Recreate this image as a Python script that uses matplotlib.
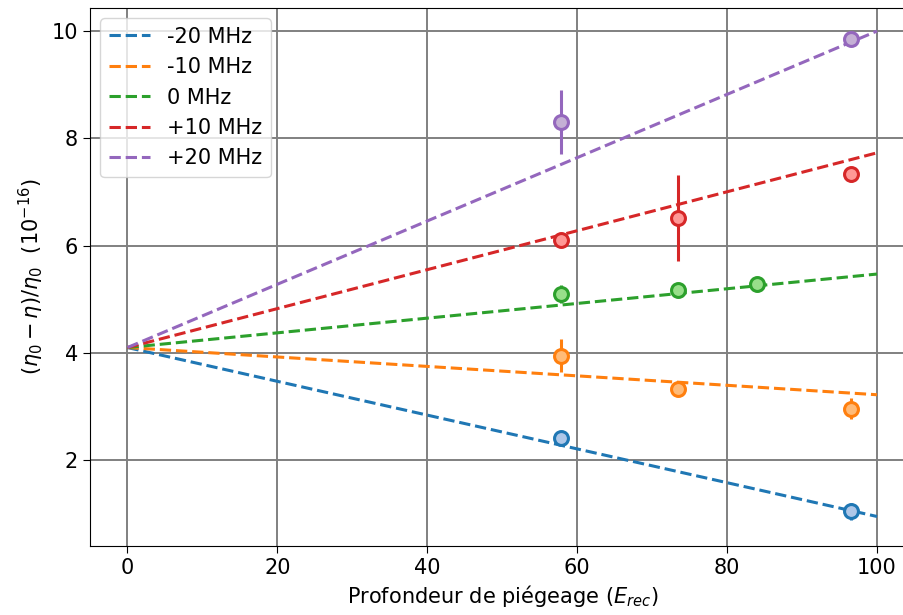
import numpy as np
import matplotlib
matplotlib.use("Agg")
import matplotlib.pyplot as plt

# Fit lines: value at depth 0 and at depth 100
labels = ['-20 MHz', '-10 MHz', '0 MHz', '+10 MHz', '+20 MHz']
colors = ['tab:blue', 'tab:orange', 'tab:green', 'tab:red', 'tab:purple']
faces = ['#aec7e8', '#ffbb78', '#98df8a', '#ff9896', '#c5b0d5']
fit_x = [0, 100]
fit_start = [4.1, 4.1, 4.1, 4.1, 4.1]
fit_end = [0.95, 3.22, 5.47, 7.73, 10.0]

# Measured points (depth, value, error)
pts_x = [
    [57.8, 96.5],
    [57.8, 73.5, 96.5],
    [57.8, 73.5, 84.0],
    [57.8, 73.5, 96.5],
    [57.8, 96.5],
]
pts_y = [
    [2.42, 1.05],
    [3.95, 3.32, 2.96],
    [5.10, 5.17, 5.28],
    [6.10, 6.51, 7.33],
    [8.30, 9.85],
]
pts_err = [
    [0.05, 0.16],
    [0.30, 0.05, 0.19],
    [0.17, 0.05, 0.05],
    [0.06, 0.80, 0.14],
    [0.60, 0.05],
]

fig = plt.figure(figsize=(9.04, 6.15), dpi=100)
ax = fig.add_axes([90/904, 1 - 546/615, (914.5 - 90)/904, (546 - 8)/615])

for i in range(5):
    ax.plot(fit_x, [fit_start[i], fit_end[i]], '--', color=colors[i],
            lw=2.2, label=labels[i])
    ax.errorbar(pts_x[i], pts_y[i], yerr=pts_err[i], fmt='o', color=colors[i],
                ms=10, mfc=faces[i], mec=colors[i], mew=2.2, elinewidth=2.2,
                capsize=0)

ax.set_xlim(-5, 105)
ax.set_ylim(0.4, 10.43)
ax.set_xticks([0, 20, 40, 60, 80, 100])
ax.set_yticks([2, 4, 6, 8, 10])
ax.grid(True, color='gray', lw=1.4)
ax.tick_params(labelsize=15, length=5)
ax.set_xlabel(r'Profondeur de piégeage ($E_{rec}$)', fontsize=15)
ax.set_ylabel(r'$(\eta_0-\eta)/\eta_0\ \ (10^{-16})$', fontsize=15)
ax.legend(loc='upper left', fontsize=15)

fig.savefig('out.png', dpi=100)
